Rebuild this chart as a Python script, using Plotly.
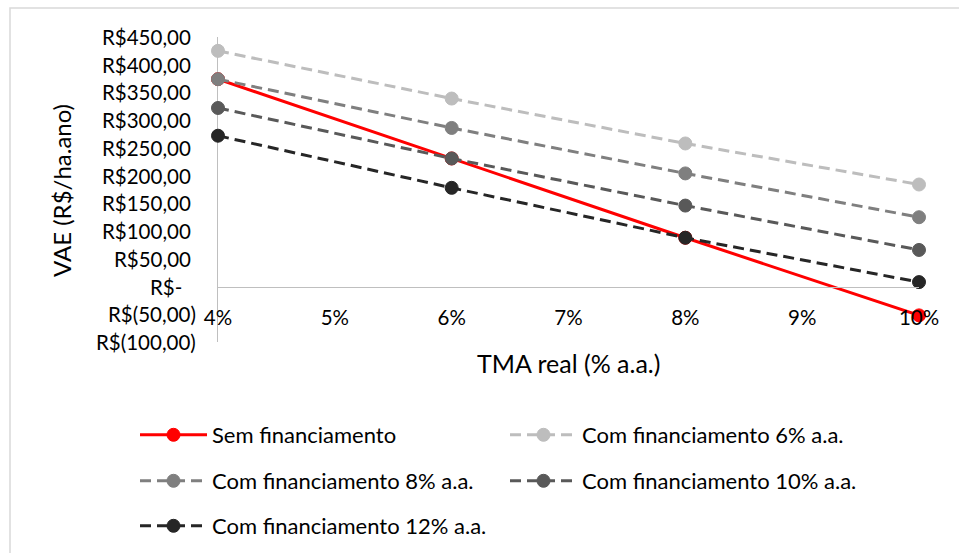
import plotly.graph_objects as go

# ---- data ----
tma = [4, 6, 8, 10]
sem_fin = [374, 231, 88, -52]
fin_6 = [425, 339, 258, 184]
fin_8 = [374, 286, 204, 125]
fin_10 = [322, 231, 146, 66]
fin_12 = [272, 178, 88, 8]

series_names = [
    "Sem financiamento",
    "Com financiamento 6% a.a.",
    "Com financiamento 8% a.a.",
    "Com financiamento 10% a.a.",
    "Com financiamento 12% a.a.",
]
series_values = [sem_fin, fin_6, fin_8, fin_10, fin_12]
series_colors = ["#FF0000", "#BDBDBD", "#7F7F7F", "#595959", "#262626"]
series_dash = ["solid", "11px,6px", "11px,6px", "11px,6px", "11px,6px"]

x_ticks = [4, 5, 6, 7, 8, 9, 10]
x_ticktext = ["4%", "5%", "6%", "7%", "8%", "9%", "10%"]
y_ticks = [450, 400, 350, 300, 250, 200, 150, 100, 50, 0, -50, -100]
y_ticktext = ["R$450,00", "R$400,00", "R$350,00", "R$300,00", "R$250,00",
              "R$200,00", "R$150,00", "R$100,00", "R$50,00", "R$-",
              "R$(50,00)", "R$(100,00)"]

FONT = "Lato"
W, H = 959, 553
L, R, T, B = 218, 40, 37, 211  # plot area 218..919 x 37..342
PW, PH = W - L - R, H - T - B


def px_x(p):
    return (p - L) / PW


def px_y(p):
    return (H - B - p) / PH


fig = go.Figure()

# legend grid positions (container coords)
leg_pos = [(135, 435), (505, 435), (135, 481), (505, 481), (135, 526)]

for i, (name, vals, col, dash) in enumerate(zip(series_names, series_values, series_colors, series_dash)):
    lg = "legend" if i == 0 else f"legend{i+1}"
    fig.add_trace(go.Scatter(
        x=tma, y=vals, name=name, mode="lines+markers",
        line=dict(color=col, width=3, dash=dash),
        marker=dict(color=col, size=13, line=dict(color=col, width=1)),
        cliponaxis=False, legend=lg,
    ))

for i, (px, py) in enumerate(leg_pos):
    key = "legend" if i == 0 else f"legend{i+1}"
    fig.update_layout(**{key: dict(
        xref="container", yref="container",
        x=px / W, y=1 - py / H, xanchor="left", yanchor="middle",
        font=dict(family=FONT, size=22, color="#000000"),
        bgcolor="rgba(0,0,0,0)", borderwidth=0, itemwidth=67,
        itemclick=False,
    )})

# y tick labels as annotations (accounting alignment)
for v, t in zip(y_ticks, y_ticktext):
    if t.startswith("R$("):
        shift = -21
    elif t == "R$-":
        shift = -35
    else:
        shift = -26
    fig.add_annotation(x=0, xref="paper", y=v, yref="y", text=t, showarrow=False,
                       xanchor="right", yanchor="middle", xshift=shift, borderpad=0,
                       font=dict(family=FONT, size=20.5, color="#000000"))

# axis titles
fig.add_annotation(x=0.5, xref="paper", y=px_y(363), yref="paper", yanchor="middle",
                   text="TMA real (% a.a.)", showarrow=False,
                   font=dict(family=FONT, size=25, color="#000000"))
fig.add_annotation(x=px_x(62), xref="paper", y=px_y(191), yref="paper", xanchor="center",
                   yanchor="middle",
                   text="VAE (R$/ha.ano)", showarrow=False, textangle=-90,
                   font=dict(family=FONT, size=24, color="#000000"))

# chart area border (left/top visible)
fig.add_shape(type="rect", xref="paper", yref="paper",
              x0=px_x(10), x1=px_x(975), y0=px_y(570), y1=px_y(8),
              line=dict(color="#D9D9D9", width=1.5), fillcolor="rgba(0,0,0,0)", layer="below")

fig.update_layout(
    width=W, height=H,
    margin=dict(l=L, r=R, t=T, b=B, autoexpand=False),
    paper_bgcolor="#FFFFFF", plot_bgcolor="#FFFFFF",
    showlegend=True,
    xaxis=dict(range=[4, 10], tickvals=x_ticks, ticktext=x_ticktext,
               anchor="free", position=100 / 550, showline=True, linecolor="#BFBFBF", linewidth=1,
               showgrid=False, zeroline=False, ticks="", ticklabelstandoff=13,
               tickfont=dict(family=FONT, size=20.5, color="#000000"),
               fixedrange=True),
    yaxis=dict(range=[-100, 450], showline=True, linecolor="#BFBFBF", linewidth=1,
               showgrid=False, zeroline=False, showticklabels=False, ticks="",
               fixedrange=True, layer="below traces"),
)

fig.write_html("out.html")
